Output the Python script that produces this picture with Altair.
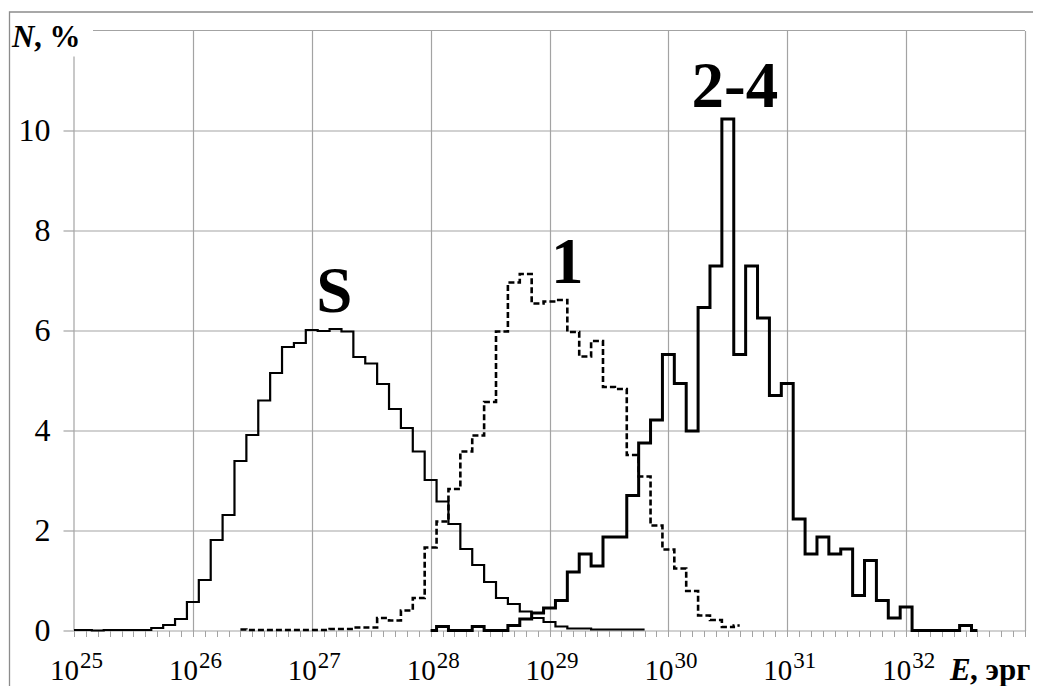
import altair as alt
import pandas as pd

# ---- data ----
# histogram bins are 0.1 decade wide; x is log10(E / erg) of the bin centre
S_START = 25.0
S_VALUES = [0.01, 0.01, 0.0, 0.01, 0.01, 0.01, 0.01, 0.05, 0.11, 0.23,
            0.57, 1.01, 1.81, 2.31, 3.39, 3.91, 4.60, 5.15, 5.67, 5.75,
            6.01, 5.99, 6.03, 5.98, 5.47, 5.34, 4.93, 4.43, 4.05, 3.58,
            3.01, 2.58, 2.13, 1.63, 1.31, 0.97, 0.65, 0.53, 0.38, 0.25,
            0.17, 0.08, 0.04, 0.04, 0.02, 0.02, 0.02, 0.02, 0.02]

ONE_START = 26.4
ONE_VALUES = [0.02, 0.01, 0.01, 0.01, 0.01, 0.01, 0.01, 0.01, 0.03, 0.03,
              0.06, 0.06, 0.25, 0.20, 0.40, 0.65, 1.66, 2.18, 2.83, 3.58,
              3.90, 4.57, 5.98, 6.96, 7.13, 6.54, 6.58, 6.61, 5.97, 5.48,
              5.79, 4.87, 4.83, 3.51, 3.08, 2.10, 1.62, 1.24, 0.79, 0.30,
              0.21, 0.07, 0.10]

TWO_START = 28.0
TWO_VALUES = [0.0, 0.08, 0.0, 0.0, 0.08, 0.0, 0.0, 0.10, 0.23, 0.35,
              0.45, 0.60, 1.17, 1.53, 1.29, 1.87, 1.87, 2.70, 3.75, 4.21,
              5.52, 4.94, 3.99, 6.46, 7.29, 10.23, 5.52, 7.29, 6.25, 4.70,
              4.94, 2.23, 1.53, 1.87, 1.53, 1.63, 0.70, 1.40, 0.60, 0.25,
              0.47, 0.0, 0.0, 0.0, 0.0, 0.10, 0.0]

DECADES = [25, 26, 27, 28, 29, 30, 31, 32]
EXPONENT_LABELS = ["25", "26", "27", "28", "29", "30", "31", "32"]
Y_TICKS = [0, 2, 4, 6, 8, 10]

CURVE_NAMES = ["S", "1", "2-4"]
CURVE_LABEL_X = [27.19, 29.15, 30.56]
CURVE_LABEL_Y = [6.37, 6.95, 10.48]

X_MIN, X_MAX = 25, 33
Y_MIN, Y_MAX = 0, 12
LEFT_LINE_TOP = 11.48      # left frame line stops below the "N, %" label
TOP_LINE_START = 25.16     # top frame line starts right of the "N, %" label

FONT = "Liberation Serif"
GRID = "#a3a3a3"


def series(start, values):
    return pd.DataFrame({
        "logE": [round(start + 0.1 * i, 1) for i in range(len(values))],
        "N": values,
    })


df_s = series(S_START, S_VALUES)
df_1 = series(ONE_START, ONE_VALUES)
df_2 = series(TWO_START, TWO_VALUES)

minor_ticks = [round(X_MIN + 0.1 * k, 1) for k in range(int((X_MAX - X_MIN) * 10) + 1)]

X_SCALE = alt.Scale(domain=[X_MIN, X_MAX], nice=False, zero=False)
Y_SCALE = alt.Scale(domain=[Y_MIN, Y_MAX], nice=False, zero=False)

X_AXIS = alt.Axis(
    values=minor_ticks, labels=False, title=None, domain=False,
    ticks=True, tickSize=6, tickColor=GRID, tickWidth=1,
    grid=True, gridColor=GRID, gridWidth=1.2,
    gridOpacity={"condition": {"test": "datum.value % 1 === 0 && datum.value > 25", "value": 1}, "value": 0},
)
Y_AXIS = alt.Axis(
    values=Y_TICKS, title=None, domain=False,
    ticks=True, tickSize=11, tickColor=GRID, tickWidth=1.2,
    labelFont=FONT, labelFontSize=32, labelColor="black", labelPadding=13,
    grid=True, gridColor=GRID, gridWidth=1.2,
)

X = lambda f: alt.X(f, type="quantitative", scale=X_SCALE, axis=X_AXIS)
Y = lambda f: alt.Y(f, type="quantitative", scale=Y_SCALE, axis=Y_AXIS)

one_row = pd.DataFrame({"k": [0]})

# outer picture frame
frame = alt.Chart(one_row).mark_rect(fillOpacity=0, stroke="#8c8c8c", strokeWidth=1.3).encode(
    x=alt.value(-64.5), x2=alt.value(1100), y=alt.value(-18.5), y2=alt.value(720)
)

left_line = alt.Chart(one_row).mark_rule(color=GRID, strokeWidth=1.2).encode(
    x=alt.datum(X_MIN, scale=X_SCALE, axis=X_AXIS),
    y=alt.datum(Y_MIN, scale=Y_SCALE, axis=Y_AXIS),
    y2=alt.datum(LEFT_LINE_TOP),
)
top_line = alt.Chart(one_row).mark_rule(color=GRID, strokeWidth=1.2).encode(
    x=alt.datum(TOP_LINE_START, scale=X_SCALE, axis=X_AXIS),
    x2=alt.datum(X_MAX),
    y=alt.datum(Y_MAX, scale=Y_SCALE, axis=Y_AXIS),
)

line_s = alt.Chart(df_s).mark_line(interpolate="step", color="black", strokeWidth=2.2).encode(
    x=X("logE"), y=Y("N"))
line_1 = alt.Chart(df_1).mark_line(interpolate="step", color="black", strokeWidth=2.6,
                                   strokeDash=[6, 3]).encode(x=X("logE"), y=Y("N"))
line_2 = alt.Chart(df_2).mark_line(interpolate="step", color="black", strokeWidth=3).encode(
    x=X("logE"), y=Y("N"))

labels_df = pd.DataFrame({"x": CURVE_LABEL_X, "y": CURVE_LABEL_Y, "t": CURVE_NAMES})
curve_labels = alt.Chart(labels_df).mark_text(
    font=FONT, fontSize=65, fontWeight="bold", color="black", align="center", baseline="alphabetic"
).encode(x=X("x"), y=Y("y"), text="t:N")

dec_df = pd.DataFrame({"logE": DECADES, "exp": EXPONENT_LABELS, "ten": ["10"] * len(DECADES)})
ten_text = alt.Chart(dec_df).mark_text(
    font=FONT, fontSize=29, color="black", align="right", baseline="alphabetic", dx=5
).encode(x=X("logE"), y=alt.value(649), text="ten:N")
exp_text = alt.Chart(dec_df).mark_text(
    font=FONT, fontSize=23, color="black", align="left", baseline="alphabetic", dx=6
).encode(x=X("logE"), y=alt.value(637.5), text="exp:N")

e_text = alt.Chart(one_row).mark_text(
    font=FONT, fontSize=31, fontWeight="bold", fontStyle="italic", color="black",
    align="left", baseline="alphabetic"
).encode(x=alt.value(876), y=alt.value(649), text=alt.value("E"))
e_unit = alt.Chart(one_row).mark_text(
    font=FONT, fontSize=31, fontWeight="bold", color="black", align="left", baseline="alphabetic"
).encode(x=alt.value(896), y=alt.value(649), text=alt.value(", эрг"))

n_text = alt.Chart(one_row).mark_text(
    font=FONT, fontSize=31, fontWeight="bold", fontStyle="italic", color="black",
    align="left", baseline="alphabetic"
).encode(x=alt.value(-62), y=alt.value(16.5), text=alt.value("N"))
n_unit = alt.Chart(one_row).mark_text(
    font=FONT, fontSize=31, fontWeight="bold", color="black", align="left", baseline="alphabetic"
).encode(x=alt.value(-40), y=alt.value(16.5), text=alt.value(", %"))

chart = alt.layer(
    frame, left_line, top_line, line_s, line_1, line_2,
    curve_labels, ten_text, exp_text, e_text, e_unit, n_text, n_unit,
).properties(
    width=951, height=600,
    autosize=alt.AutoSizeParams(type="none"),
    padding={"left": 74, "top": 30.5, "right": 8, "bottom": 55.5},
    background="white",
).configure_view(stroke=None)

chart.save("out.html", embed_options={"renderer": "svg", "actions": False})
